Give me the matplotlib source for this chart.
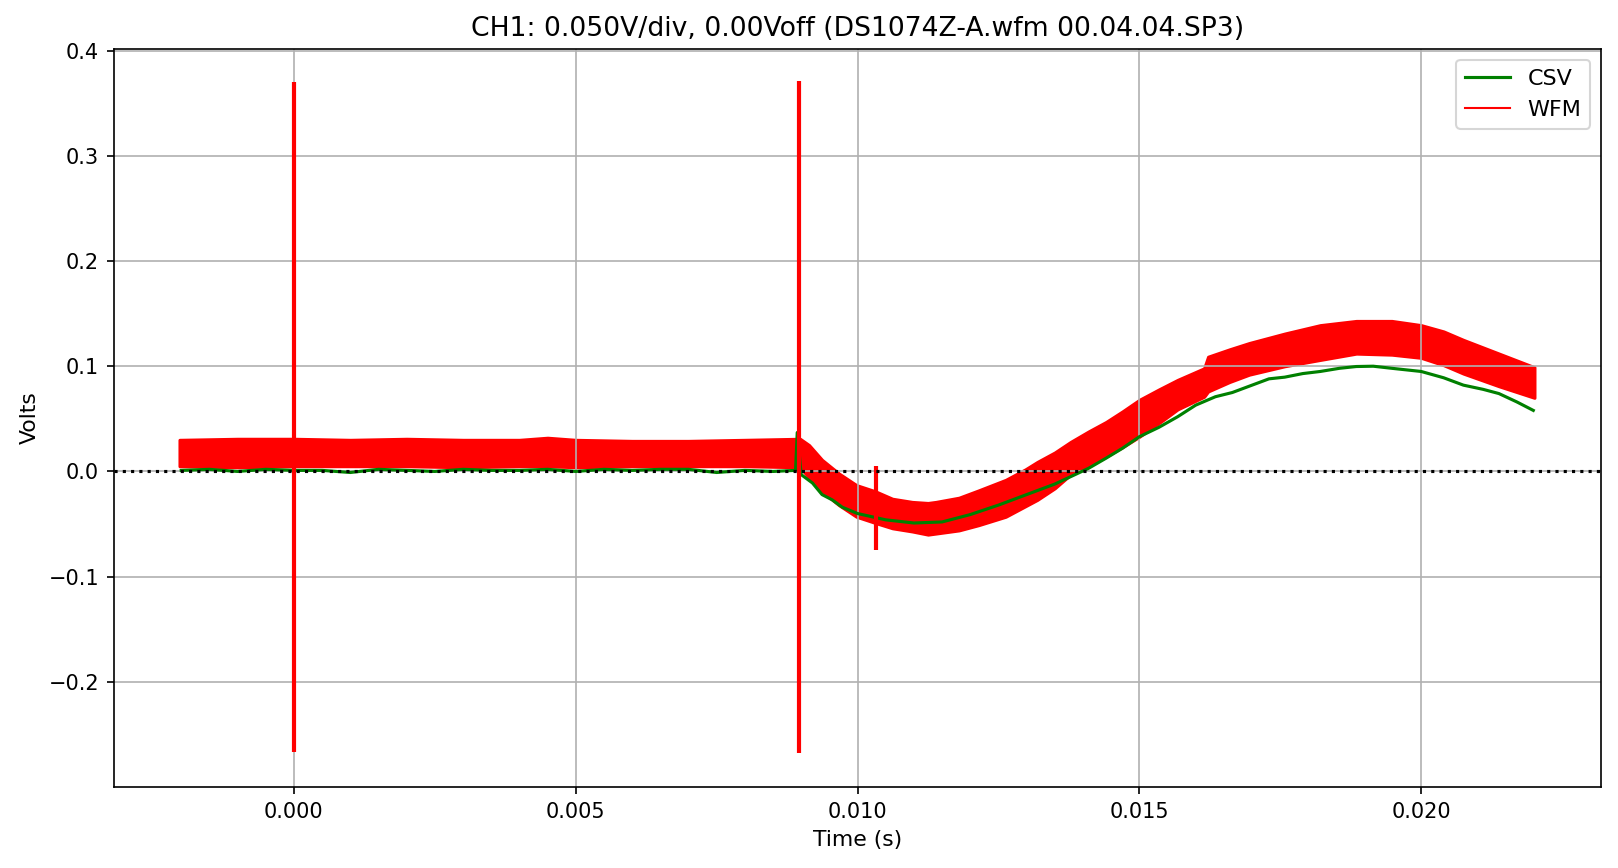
import numpy as np
import matplotlib
matplotlib.use("Agg")
from matplotlib import pyplot as plt
from matplotlib.lines import Line2D

# CSV trace (green)
t_csv = [-0.0020, -0.0015, -0.0010, -0.0005, 0.0000, 0.0005, 0.0010, 0.0015,
         0.0020, 0.0025, 0.0030, 0.0035, 0.0040, 0.0045, 0.0050, 0.0055,
         0.0060, 0.0065, 0.0070, 0.0075, 0.0080, 0.0085, 0.00890, 0.00893,
         0.00900, 0.00920, 0.00937, 0.00955, 0.00973, 0.0100, 0.0105, 0.0110,
         0.0115, 0.0120, 0.0125, 0.0130, 0.0135, 0.01378, 0.01410, 0.01441,
         0.01470, 0.0150, 0.01535, 0.01568, 0.01600, 0.01635, 0.01665, 0.01695,
         0.01730, 0.01758, 0.01790, 0.01821, 0.01855, 0.01885, 0.01915, 0.01948,
         0.0200, 0.02040, 0.02075, 0.02110, 0.02138, 0.02170, 0.02199]
v_csv = [0.001, 0.002, 0.000, 0.002, 0.001, 0.001, -0.001, 0.002,
         0.001, 0.000, 0.002, 0.001, 0.001, 0.002, 0.000, 0.002,
         0.001, 0.002, 0.002, -0.001, 0.001, 0.000, 0.001, 0.037,
         -0.003, -0.011, -0.022, -0.027, -0.034, -0.040, -0.046, -0.049,
         -0.048, -0.041, -0.032, -0.022, -0.012, -0.005, 0.003, 0.0126,
         0.022, 0.033, 0.042, 0.052, 0.063, 0.071, 0.075, 0.081,
         0.088, 0.0896, 0.093, 0.095, 0.098, 0.0997, 0.1000, 0.098,
         0.095, 0.089, 0.082, 0.078, 0.074, 0.066, 0.058]

# WFM trace (red): noise envelope of the band
t_wfm = [-0.00203, -0.0010, 0.0000, 0.0010, 0.0020, 0.0030, 0.0040, 0.0045,
         0.0050, 0.0060, 0.0070, 0.0080, 0.00898, 0.00914, 0.00937, 0.00967,
         0.00998, 0.01032, 0.01062, 0.01097, 0.01125, 0.01139, 0.0118, 0.01215,
         0.01263, 0.01298, 0.01319, 0.01350, 0.01378, 0.01410, 0.01441, 0.01470,
         0.0150, 0.01535, 0.01568, 0.01615, 0.01622, 0.01660, 0.01695, 0.01758,
         0.01821, 0.01885, 0.01948, 0.0200, 0.02040, 0.02075, 0.02138, 0.02201]
wfm_hi = [0.030, 0.031, 0.031, 0.030, 0.031, 0.030, 0.030, 0.032,
          0.030, 0.029, 0.029, 0.030, 0.031, 0.025, 0.011, -0.002,
          -0.013, -0.019, -0.026, -0.029, -0.030, -0.029, -0.025, -0.018,
          -0.008, 0.002, 0.009, 0.018, 0.028, 0.038, 0.047, 0.057,
          0.068, 0.078, 0.087, 0.098, 0.109, 0.116, 0.122, 0.131,
          0.139, 0.143, 0.143, 0.139, 0.133, 0.125, 0.112, 0.099]
wfm_lo = [0.005, 0.004, 0.005, 0.005, 0.005, 0.004, 0.005, 0.005,
          0.004, 0.005, 0.005, 0.005, 0.004, -0.006, -0.019, -0.032,
          -0.043, -0.049, -0.054, -0.057, -0.060, -0.059, -0.056, -0.051,
          -0.043, -0.033, -0.027, -0.016, -0.003, 0.005, 0.014, 0.023,
          0.033, 0.046, 0.059, 0.071, 0.076, 0.085, 0.092, 0.100,
          0.106, 0.112, 0.111, 0.108, 0.101, 0.093, 0.081, 0.070]

# glitches in the WFM trace
spike_t = [0.0000, 0.00897, 0.01032]
spike_lo = [-0.267, -0.268, -0.075]
spike_hi = [0.370, 0.371, 0.005]

fig = plt.figure(figsize=(1618 / 150, 868 / 150), dpi=150)
ax = fig.add_axes([0.0702, 0.0933, 0.9196, 0.8508])

ax.plot(t_csv, v_csv, color="green", lw=1.5)
ax.fill_between(t_wfm, wfm_lo, wfm_hi, color="red", lw=1.5, edgecolor="red")
ax.vlines(spike_t, spike_lo, spike_hi, color="red", lw=2)
ax.axhline(0, color="black", linestyle=":", zorder=5)

ax.set_xlim(-0.0032, 0.0232)
ax.set_ylim(-0.2999, 0.4019)
ax.grid(True)
ax.set_xlabel("Time (s)", fontsize=10.5)
ax.set_ylabel("Volts", fontsize=10.5)
ax.set_title("CH1: 0.050V/div, 0.00Voff (DS1074Z-A.wfm 00.04.04.SP3)", fontsize=12.75)

handles = [Line2D([], [], color="green", lw=1.5),
           Line2D([], [], color="red", lw=1.0)]
ax.legend(handles, ["CSV", "WFM"], loc="upper right", fontsize=10.7)

fig.savefig("out.png", dpi=150)
